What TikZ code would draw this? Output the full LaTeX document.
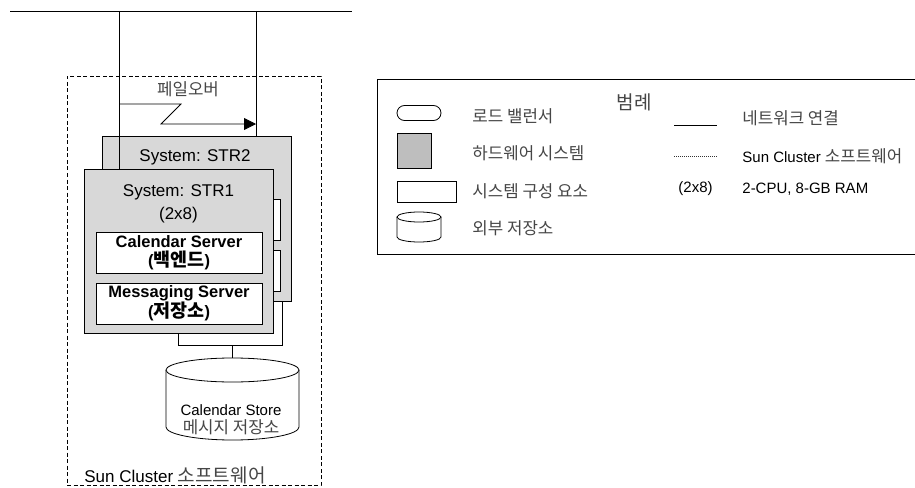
\documentclass[tikz,border=0pt]{standalone}
\usepackage{fontspec}
\setmainfont{Liberation Sans}
\newfontfamily\kr[Scale=1.12]{Noto Sans CJK KR}
\usetikzlibrary{arrows.meta,shapes.misc}
\definecolor{boxgray}{RGB}{216,216,216}
\definecolor{leggray}{RGB}{190,190,190}
\definecolor{krgray}{RGB}{70,70,70}
\newcommand{\K}[1]{{\kr\color{krgray}#1}}
\begin{document}
\begin{tikzpicture}[x=1pt,y=-1pt,line width=0.8pt,
  sysbox/.style={draw, fill=boxgray},
  compbox/.style={draw, fill=white, minimum width=166pt, minimum height=41pt, inner sep=0pt,
    align=center, font=\fontsize{16.5}{19}\selectfont\bfseries},
  big/.style={font=\fontsize{17}{19}\selectfont, inner sep=0pt},
  small/.style={font=\fontsize{15}{18}\selectfont, inner sep=0pt},
  legtext/.style={small, anchor=west},
  clusterline/.style={dash pattern=on 4pt off 2.5pt}
]
\useasboundingbox (0,0) rectangle (915,487);
\fill[white] (0,0) rectangle (915,487);

% cluster boundary
\node[draw, clusterline, minimum width=254pt, minimum height=409pt, inner sep=0pt] (cluster) at (194,280.5) {};
\node[big, anchor=west] (clustert) at (84,475) {Sun Cluster \K{소프트웨어}};

% network
\coordinate (netL) at (10,11);
\coordinate (netR) at (352,11);
\coordinate (n1) at (119,11);
\coordinate (n2) at (256,11);
\draw (netL) -- (netR);

% STR2
\node[sysbox, minimum width=189pt, minimum height=165pt] (str2) at (196.5,218.5) {};
\node[big] (str2t) at (195,157) {System: STR2};
\node[compbox] (c2a) at (197,219.5) {};
\node[compbox] (c2b) at (197,270.5) {};

\draw (n2) -- (n2 |- str2.north);

% STR1
\node[sysbox, minimum width=189pt, minimum height=164pt] (str1) at (178.5,251) {};
\draw (n1) -- (n1 |- str1.north);
\node[big] (str1t) at (178.5,192) {System: STR1};
\node[big] (str1c) at (178.5,215) {(2x8)};
\node[compbox] (cal) at (179,252.5) {Calendar Server\\({\kr 백엔드})};
\node[compbox] (msg) at (179,303.5) {Messaging Server\\({\kr 저장소})};

% failover
\coordinate (fy1) at (0,104);
\coordinate (fy2) at (0,124);
\coordinate (fb1) at (181,104);
\coordinate (fb2) at (161,124);
\draw[-{Triangle[length=12pt,width=12pt]}] (n1 |- fy1) -- (fb1) -- (fb2) -- (n2 |- fy2);
\node[small] (fail) at (188,89) {\K{페일오버}};

% connection to storage
\coordinate (jy) at (0,345);
\coordinate (jR) at (282,345);
\coordinate (jM) at (232.5,345);
\coordinate (storetop) at (232.5,358);
\draw (str1.south) -- (str1.south |- jy) -- (jR) -- (jR |- str2.south);
\draw (jM) -- (storetop);

% storage cylinder
\filldraw[fill=white] (166,370) -- (166,427) .. controls (166,434.2) and (195.8,440) .. (232.5,440)
   .. controls (269.2,440) and (299,434.2) .. (299,427) -- (299,370);
\draw[fill=white] (232.5,370) ellipse[x radius=66.5, y radius=12];
\node[small, align=center] (store) at (231,420) {Calendar Store\\\K{메시지 저장소}};

% legend
\node[draw, minimum width=553pt, minimum height=175pt, inner sep=0pt] (legend) at (653.5,166.5) {};
\node[inner sep=0pt, font=\fontsize{17}{21}\selectfont] (legt) at (634,102) {\K{범례}};

\node[draw, rounded rectangle, minimum width=44pt, minimum height=15pt, inner sep=0pt] (lgLB) at (419,113) {};
\node[legtext] (tLB) at (472,116) {\K{로드 밸런서}};
\node[draw, fill=leggray, minimum width=34pt, minimum height=35pt, inner sep=0pt] (lgHW) at (414,150.5) {};
\node[legtext] (tHW) at (472,153) {\K{하드웨어 시스템}};
\node[draw, minimum width=59pt, minimum height=21pt, inner sep=0pt] (lgSC) at (426.5,191.5) {};
\node[legtext] (tSC) at (472,191) {\K{시스템 구성 요소}};
\filldraw[fill=white] (397,217) -- (397,237) .. controls (397,239.8) and (406.85,242) .. (419,242)
   .. controls (431.15,242) and (441,239.8) .. (441,237) -- (441,217);
\draw[fill=white] (419,217) ellipse[x radius=22, y radius=5];
\node[legtext] (tES) at (472,228) {\K{외부 저장소}};

\coordinate (lnA) at (674,125);
\coordinate (lnB) at (717,125);
\draw (lnA) -- (lnB);
\node[legtext] (tNC) at (742,118) {\K{네트워크 연결}};
\coordinate (ldA) at (674,156);
\coordinate (ldB) at (717,156);
\draw[line width=0.7pt, black!80, dash pattern=on 1pt off 1pt] (ldA) -- (ldB);
\node[legtext] (tSCS) at (742,156) {Sun Cluster \K{소프트웨어}};
\node[small, anchor=east] (t2x8) at (713,189) {(2x8)};
\node[legtext] (tCPU) at (742,189) {2-CPU, 8-GB RAM};
\end{tikzpicture}
\end{document}
